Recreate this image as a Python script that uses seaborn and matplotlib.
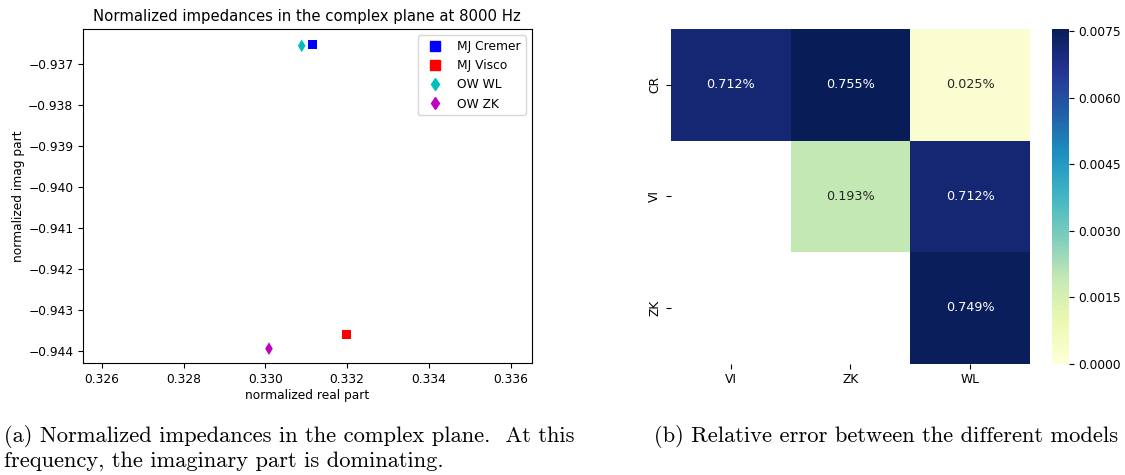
import numpy as np
import pandas as pd
import matplotlib
matplotlib.use("Agg")
import matplotlib.pyplot as plt
import seaborn as sns
from matplotlib.ticker import FuncFormatter

# ---- data: left panel ----
models = ["MJ Cremer", "MJ Visco", "OW WL", "OW ZK"]
real_part = [0.33115, 0.33199, 0.33089, 0.33009]
imag_part = [-0.93651, -0.94360, -0.93655, -0.94395]
model_colors = ["b", "r", "c", "m"]
model_markers = ["s", "s", "d", "d"]

# ---- data: right panel ----
row_labels = ["CR", "VI", "ZK"]
col_labels = ["VI", "ZK", "WL"]
err_CR = [0.00712, 0.00755, 0.00025]
err_VI = [np.nan, 0.00193, 0.00712]
err_ZK = [np.nan, np.nan, 0.00749]
cbar_ticks = [0.0, 0.0015, 0.0030, 0.0045, 0.0060, 0.0075]

FS = 8.8


def fmt3(v, pos=None):
    return ("%.3f" % v).replace("-", "\u2212")


fig = plt.figure(figsize=(11.25, 4.75), dpi=100)

# ---------------- left: complex plane ----------------
ax1 = fig.add_axes([0.0738, 0.2352, 0.3988, 0.7032])
df = pd.DataFrame({"model": models, "real": real_part, "imag": imag_part})
sns.scatterplot(data=df, x="real", y="imag", hue="model", style="model",
                palette=dict(zip(models, model_colors)),
                markers=dict(zip(models, model_markers)),
                s=42, linewidth=0, ax=ax1, legend=False)
for m, c, mk in zip(models, model_colors, model_markers):
    ax1.plot([], [], linestyle="none", marker=mk, color=c, markersize=6.5, label=m)
ax1.set_xlim(0.325543, 0.336513)
ax1.set_ylim(-0.944307, -0.936146)
ax1.set_xticks([0.326, 0.328, 0.330, 0.332, 0.334, 0.336])
ax1.set_yticks([-0.944, -0.943, -0.942, -0.941, -0.940, -0.939, -0.938, -0.937])
ax1.xaxis.set_major_formatter(FuncFormatter(fmt3))
ax1.yaxis.set_major_formatter(FuncFormatter(fmt3))
ax1.tick_params(labelsize=FS)
ax1.set_xlabel("normalized real part", fontsize=FS, labelpad=2)
ax1.set_ylabel("normalized imag part", fontsize=FS, labelpad=2)
ax1.set_title("Normalized impedances in the complex plane at 8000 Hz", fontsize=10.75, pad=6)
ax1.legend(loc="upper right", fontsize=FS)

# ---------------- right: heatmap ----------------
ax2 = fig.add_axes([0.5964, 0.2343, 0.3191, 0.7046])
cax = fig.add_axes([0.9354, 0.2343, 0.01484, 0.7046])
mat = pd.DataFrame([err_CR, err_VI, err_ZK], index=row_labels, columns=col_labels)
sns.heatmap(mat, ax=ax2, cbar_ax=cax, cmap="YlGnBu", vmin=0.0, vmax=0.00755,
            annot=True, fmt=".3%", annot_kws={"fontsize": 9.2},
            cbar_kws={"ticks": cbar_ticks, "format": "%.4f"})
ax2.tick_params(labelsize=FS)
ax2.set_yticklabels(row_labels, rotation=90, va="center")
ax2.set_xticklabels(col_labels, rotation=0)
cax.tick_params(labelsize=FS)

# ---------------- captions ----------------
cap_font = dict(family="cmr10", fontsize=16.2, color="black")
fig.text(0.004, 0.080, "(a) Normalized impedances in the complex plane.  At this",
         ha="left", va="center", **cap_font)
fig.text(0.004, 0.029, "frequency, the imaginary part is dominating.",
         ha="left", va="center", **cap_font)
fig.text(0.5815, 0.080, "(b) Relative error between the different models",
         ha="left", va="center", **cap_font)

fig.savefig("out.png", dpi=100)
